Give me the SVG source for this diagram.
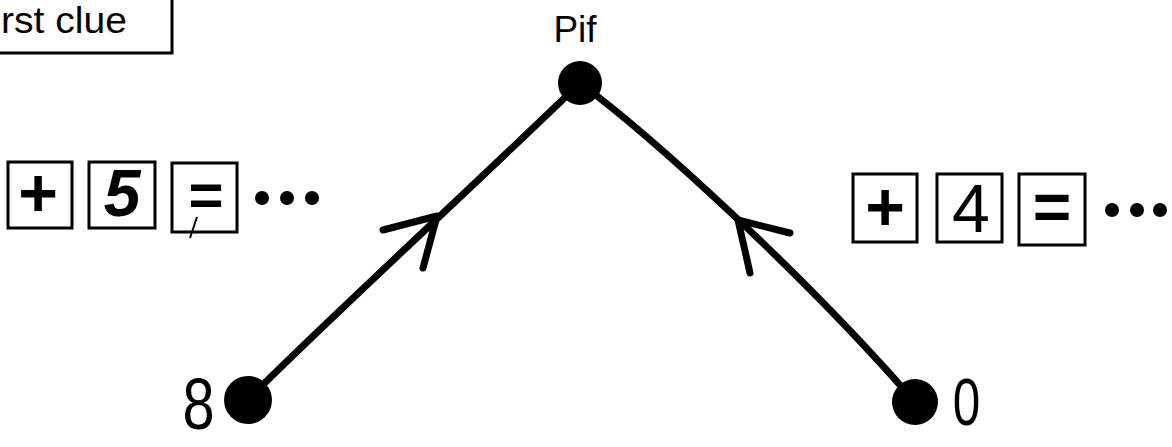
<svg xmlns="http://www.w3.org/2000/svg" width="1172" height="447" viewBox="0 0 1172 447">
<style>
.t{font-family:"Liberation Sans",Arial,sans-serif;fill:#000}
.box{fill:none;stroke:#000;stroke-width:3}
.edge{fill:none;stroke:#000;stroke-width:7;stroke-linecap:round;stroke-linejoin:round}
.dot{fill:#000}
</style>
<rect width="1172" height="447" fill="#fff"/>
<g id="title">
<rect class="box" x="-10" y="-10" width="182" height="63"/>
<text class="t" x="1" y="33" font-size="36" textLength="126" lengthAdjust="spacingAndGlyphs">rst clue</text>
</g>
<g id="connectors">
<path class="edge" d="M248,400 C290,355 480,180 580,83"/>
<path class="edge" d="M580,83 C650,135 800,270 915,402"/>
<path class="edge" d="M383,230 L437,216 L423,268"/>
<path class="edge" d="M790,233 L738,220 L750,273"/>
</g>
<g id="node-pif">
<circle class="dot" cx="580" cy="83" r="22"/>
<text class="t" x="575" y="42" font-size="37" text-anchor="middle">Pif</text>
</g>
<g id="node-8">
<circle class="dot" cx="248" cy="400" r="24"/>
<text class="t" transform="translate(198.5,429) scale(0.8,1)" font-size="72" text-anchor="middle">8</text>
</g>
<g id="node-0">
<circle class="dot" cx="915" cy="402" r="23"/>
<text class="t" transform="translate(966.5,425) scale(0.75,1)" font-size="66" text-anchor="middle">0</text>
</g>
<g id="left-clue">
<rect class="box" x="8" y="162" width="64" height="66"/>
<text class="t" x="38" y="216" font-size="68" font-weight="bold" text-anchor="middle">+</text>
<rect class="box" x="89" y="162" width="66" height="66"/>
<text class="t" x="122" y="216" font-size="66" font-weight="bold" font-style="italic" text-anchor="middle">5</text>
<rect class="box" x="172" y="163" width="65" height="69"/>
<text class="t" x="206" y="215" font-size="60" font-weight="bold" text-anchor="middle">=</text>
<path d="M197,217 L190,238" stroke="#000" stroke-width="2" fill="none"/>
<circle class="dot" cx="262" cy="198" r="7"/>
<circle class="dot" cx="287" cy="198" r="7"/>
<circle class="dot" cx="312" cy="198" r="7"/>
</g>
<g id="right-clue">
<rect class="box" x="853" y="174" width="64" height="68"/>
<text class="t" x="885" y="230" font-size="68" font-weight="bold" text-anchor="middle">+</text>
<rect class="box" x="937" y="174" width="65" height="68"/>
<text class="t" x="971" y="232" font-size="68" text-anchor="middle">4</text>
<rect class="box" x="1019" y="174" width="66" height="71"/>
<text class="t" x="1052" y="230" font-size="66" font-weight="bold" text-anchor="middle">=</text>
<circle class="dot" cx="1112" cy="210" r="7"/>
<circle class="dot" cx="1137" cy="210" r="7"/>
<circle class="dot" cx="1160" cy="210" r="7"/>
</g>
</svg>
